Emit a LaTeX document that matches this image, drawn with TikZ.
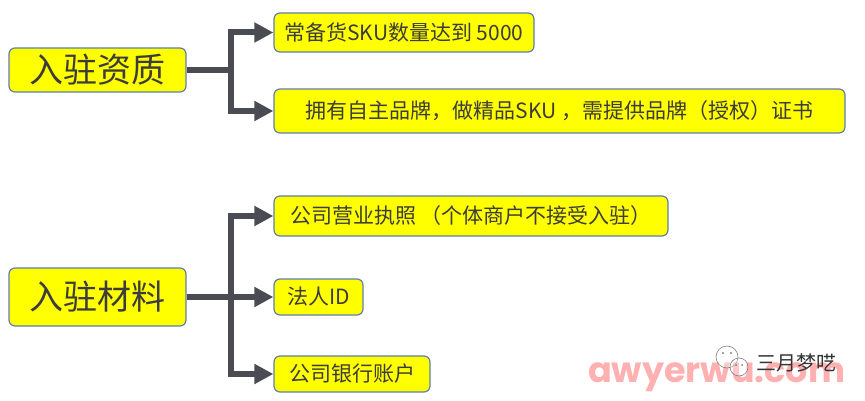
\documentclass[tikz,border=0pt]{standalone}
\usepackage{fontspec}
\setmainfont{Noto Sans CJK SC}
\newfontfamily\wmfont{Poppins}
\usetikzlibrary{arrows.meta}
\definecolor{boxfill}{HTML}{FFFF00}
\definecolor{boxline}{HTML}{5F7FAE}
\definecolor{txt}{HTML}{3C3C3C}
\definecolor{conncol}{HTML}{4B4B53}
\definecolor{wmpink}{HTML}{FFB0B0}
\tikzset{
  box/.style={draw=boxline, line width=1.2pt, fill=boxfill, rounded corners=6pt,
    inner sep=0pt, text=txt, font=\fontsize{21}{24}\selectfont},
  bigbox/.style={box, font=\fontsize{34}{38}\selectfont},
  conn/.style={draw=conncol, line width=6pt, line join=miter},
  arr/.style={conn, -{Triangle[length=19pt, width=19pt]}},
}
\begin{document}
\begin{tikzpicture}[x=1pt, y=-1pt]
\useasboundingbox (0,0) rectangle (865,401);
\fill[white] (0,0) rectangle (865,401);

% top group
\node[bigbox, minimum width=177pt, minimum height=44pt] (A1) at (97.5,70) {入驻资质};
\node[box, minimum width=260pt, minimum height=39pt] (B1) at (404,32.5) {常备货SKU数量达到 5000};
\node[box, minimum width=571pt, minimum height=44pt] (B2) at (559.5,111) {拥有自主品牌，做精品SKU ，需提供品牌（授权）证书};
\coordinate (J1) at (230.5,70);
\draw[conn] (A1.east) -- (J1);
\draw[arr] (J1) |- (B1.west);
\draw[arr] (J1) |- (B2.west);

% bottom group
\node[bigbox, minimum width=177pt, minimum height=58pt] (A2) at (97.5,297) {入驻材料};
\node[box, minimum width=394pt, minimum height=40pt] (C1) at (471,216) {公司营业执照 （个体商户不接受入驻）};
\node[box, minimum width=89pt, minimum height=36pt] (C2) at (318.5,297) {法人ID};
\node[box, minimum width=156pt, minimum height=36pt] (C3) at (352,374) {公司银行账户};
\coordinate (J2) at (230.5,297);
\draw[conn] (A2.east) -- (J2);
\draw[arr] (J2) |- (C1.west);
\draw[arr] (J2) -- (C2.west);
\draw[arr] (J2) |- (C3.west);

% watermark
\node[anchor=base west, inner sep=0pt, text=wmpink, font=\wmfont\bfseries\fontsize{35}{38}\selectfont] (wm) at (588,382) {awyerwu.com};
\draw[gray, line width=0.6pt, fill=white, fill opacity=0.3] (727,357) circle (11);
\draw[gray, line width=0.6pt, fill=white, fill opacity=0.3] (739,367) circle (9);
\fill[gray] (723,353) circle (1.2) (731,353) circle (1.2) (736,365) circle (1) (742,365) circle (1);
\node[anchor=west, inner sep=0pt, text=black!80, font=\fontsize{20}{22}\selectfont] (wx) at (756,363) {三月梦呓};
\end{tikzpicture}
\end{document}
